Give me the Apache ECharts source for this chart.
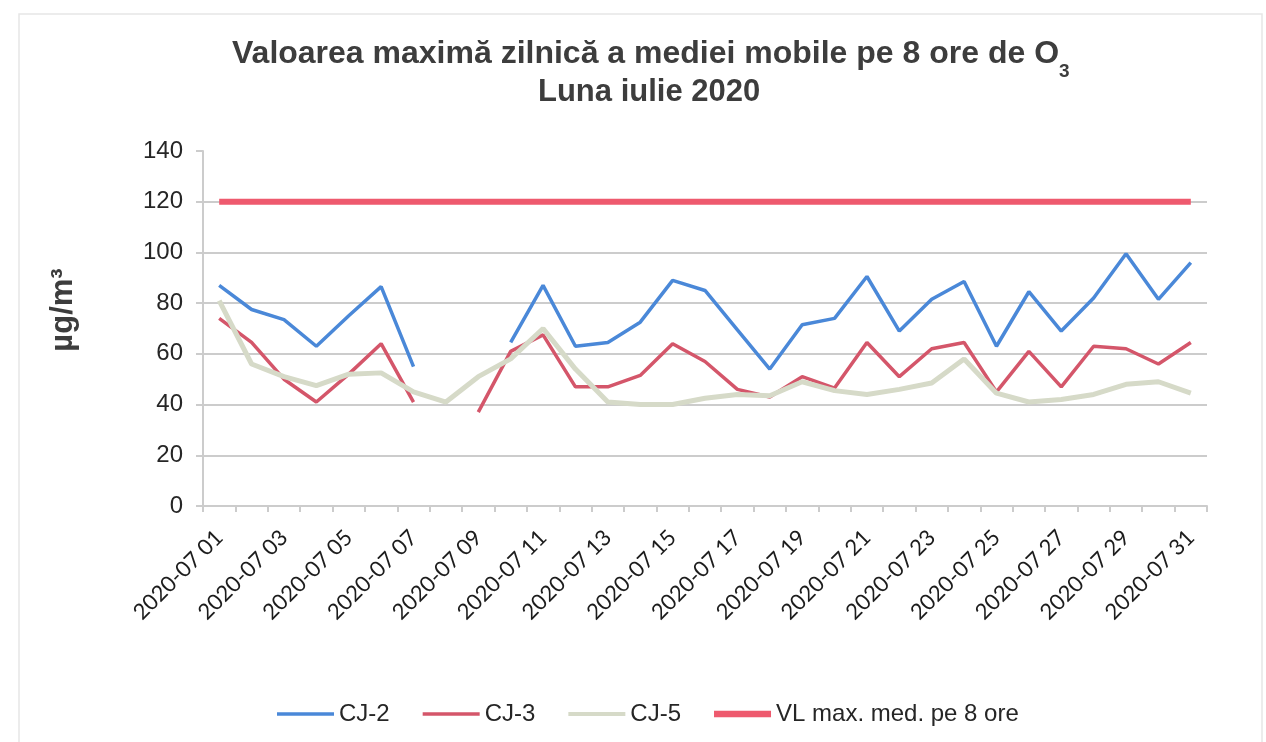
<!DOCTYPE html>
<html>
<head>
<meta charset="utf-8">
<script src="https://cdn.jsdelivr.net/npm/echarts@6/dist/echarts.min.js"></script>
<style>
html,body{margin:0;padding:0;background:#fff;}
#chart{width:1266px;height:742px;}
</style>
</head>
<body>
<div id="chart"></div>
<script>
var categories = ['2020-07 01','2020-07 02','2020-07 03','2020-07 04','2020-07 05','2020-07 06','2020-07 07','2020-07 08','2020-07 09','2020-07 10',
  '2020-07 11','2020-07 12','2020-07 13','2020-07 14','2020-07 15','2020-07 16','2020-07 17','2020-07 18','2020-07 19','2020-07 20',
  '2020-07 21','2020-07 22','2020-07 23','2020-07 24','2020-07 25','2020-07 26','2020-07 27','2020-07 28','2020-07 29','2020-07 30','2020-07 31'];
var cj2 = [87, 77.5, 73.5, 63, 75, 86.5, 55, null, null, 64.5, 87, 63, 64.5, 72.5, 89, 85, 69.5, 54, 71.5, 74, 90.5, 69, 81.5, 88.5, 63, 84.5, 69, 82, 99.5, 81.5, 96];
var cj3 = [74, 64.5, 50, 41, 52, 64, 41, null, 37, 61, 67.5, 47, 47, 51.5, 64, 57, 46, 43, 51, 46.5, 64.5, 51, 62, 64.5, 45, 61, 47, 63, 62, 56, 64.5];
var cj5 = [81, 56, 51, 47.5, 52, 52.5, 45, 41, 51, 58, 70, 54, 41, 40, 40, 42.5, 44, 43.5, 49, 45.5, 44, 46, 48.5, 58, 44.5, 41, 42, 44, 48, 49, 44.5];
var vl = [120, 120, 120, 120, 120, 120, 120, 120, 120, 120, 120, 120, 120, 120, 120, 120, 120, 120, 120, 120, 120, 120, 120, 120, 120, 120, 120, 120, 120, 120, 120];
var seriesNames = ['CJ-2', 'CJ-3', 'CJ-5', 'VL max. med. pe 8 ore'];
var titleLine1 = 'Valoarea maximă zilnică a mediei mobile pe 8 ore de O';
var titleSub = '3';
var titleLine2 = 'Luna iulie 2020';
var yName = 'µg/m³';

var chart = echarts.init(document.getElementById('chart'), null, {renderer: 'canvas'});
var FONT = 'Liberation Sans, Arial, sans-serif';
var gridColor = '#cccccc';

function lineSeries(name, data, color, width) {
  return {
    name: name, type: 'line', data: data, symbol: 'none', connectNulls: false,
    lineStyle: {color: color, width: width}, itemStyle: {color: color},
    emphasis: {disabled: true}, animation: false
  };
}

chart.setOption({
  backgroundColor: '#ffffff',
  animation: false,
  title: [{
    text: titleLine1 + '{s|' + titleSub + '}',
    left: 232, top: 38, padding: 0,
    textStyle: {
      fontFamily: FONT, fontWeight: 'bold', fontSize: 32, color: '#3d3d3d', lineHeight: 32,
      rich: {s: {fontFamily: FONT, fontWeight: 'bold', fontSize: 19, lineHeight: 19, color: '#3d3d3d', padding: [36, 0, 0, 0]}}
    }
  }, {
    text: titleLine2,
    left: 538, top: 77, padding: 0,
    textStyle: {fontFamily: FONT, fontWeight: 'bold', fontSize: 31, color: '#3d3d3d', lineHeight: 31}
  }],
  graphic: [{
    type: 'rect', silent: true, z: -10,
    shape: {x: 19, y: 14, width: 1243, height: 740},
    style: {fill: 'none', stroke: '#e6e6e6', lineWidth: 1.5}
  }, {
    type: 'text', x: 63, y: 310, rotation: Math.PI / 2, silent: true,
    style: {text: yName, fontFamily: FONT, fontWeight: 'bold', fontSize: 31, fill: '#3d3d3d', align: 'center', verticalAlign: 'middle'}
  }],
  legend: {
    data: [
      {name: seriesNames[0], icon: 'path://M0,0H57V3.5H0Z'},
      {name: seriesNames[1], icon: 'path://M0,0H57V3.5H0Z'},
      {name: seriesNames[2], icon: 'path://M0,0H57V4H0Z'},
      {name: seriesNames[3], icon: 'path://M0,0H57V6.5H0Z'}
    ],
    left: 272, top: 697, itemWidth: 57, itemHeight: 14, itemGap: 33, symbolKeepAspect: true,
    textStyle: {fontFamily: FONT, fontSize: 24, color: '#262626'},
    selectedMode: false
  },
  grid: {left: 203, right: 59, top: 151, bottom: 236, containLabel: false},
  xAxis: {
    type: 'category', data: categories, boundaryGap: true,
    axisLine: {show: true, lineStyle: {color: gridColor, width: 2}},
    axisTick: {show: true, interval: 0, length: 6, lineStyle: {color: gridColor, width: 2}},
    axisLabel: {interval: 1, rotate: 45, fontFamily: 'Lato, Open Sans, sans-serif', fontSize: 22, color: '#1c1c1c', margin: 28},
    splitLine: {show: false}
  },
  yAxis: {
    type: 'value', min: 0, max: 140, interval: 20,
    axisLine: {show: true, lineStyle: {color: gridColor, width: 2}},
    axisTick: {show: true, length: 7, lineStyle: {color: gridColor, width: 2}},
    axisLabel: {fontFamily: FONT, fontSize: 24, color: '#262626', margin: 20},
    splitLine: {show: true, lineStyle: {color: [gridColor, gridColor, gridColor, gridColor, gridColor, gridColor, gridColor, 'rgba(0,0,0,0)'], width: 2}}
  },
  series: [
    lineSeries(seriesNames[0], cj2, '#4a88d8', 3.5),
    lineSeries(seriesNames[1], cj3, '#d4566a', 3.5),
    lineSeries(seriesNames[2], cj5, '#d6dac8', 5),
    lineSeries(seriesNames[3], vl, '#ee5a6e', 6)
  ]
});
</script>
</body>
</html>
